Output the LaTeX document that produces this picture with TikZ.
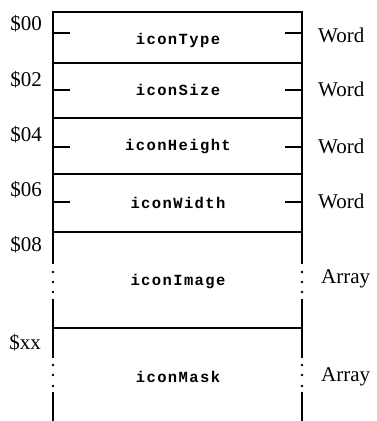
\documentclass[tikz,border=0pt]{standalone}
\usepackage{fontspec}
\setmainfont{Liberation Serif}
\newfontfamily\fieldfont[LetterSpace=9]{Liberation Mono}
\begin{document}
\begin{tikzpicture}[x=1pt,y=-1pt,
  rule/.style={line width=1.8pt},
  tick/.style={line width=1.6pt},
  offset/.style={font=\fontsize{21}{21}\selectfont, inner sep=0pt},
  kind/.style={font=\fontsize{21}{21}\selectfont, anchor=west, inner sep=0pt},
  field/.style={font=\fieldfont\bfseries\fontsize{15.5}{15.5}\selectfont, inner sep=0pt},
  gapdot/.style={fill, radius=1.3pt}]
\useasboundingbox (0,0) rectangle (376,421);
% column edges
\def\xl{53}\def\xr{302}
% outer frame and dividers
\draw[rule] (\xl,421) -- (\xl,12) -- (\xr,12) -- (\xr,421);
\draw[rule] (\xl,63) -- (\xr,63);
\draw[rule] (\xl,118) -- (\xr,118);
\draw[rule] (\xl,174) -- (\xr,174);
\draw[rule] (\xl,232) -- (\xr,232);
\draw[rule] (\xl,328) -- (\xr,328);
% gaps in the sides of the variable-length arrays
\foreach \x in {\xl,\xr} {
  \fill[white] (\x-3,264) rectangle (\x+3,299);
  \fill[white] (\x-3,358) rectangle (\x+3,392);
  \foreach \y in {272,282,292,365,375,386} \fill (\x,\y) circle[radius=1.3pt];
}
% word ticks
\foreach \y in {33,90,147,202} {
  \draw[tick] (\xl,\y) -- (\xl+17,\y);
  \draw[tick] (\xr-17,\y) -- (\xr,\y);
}
% field names
\node[field] (fType)   at (178,40)  {iconType};
\node[field] (fSize)   at (178,90)  {iconSize};
\node[field] (fHeight) at (178,147) {iconHeight};
\node[field] (fWidth)  at (178,203) {iconWidth};
\node[field] (fImage)  at (178,282) {iconImage};
\node[field] (fMask)   at (178,377) {iconMask};
% offsets
\node[offset] (o0) at (26,24)  {\$00};
\node[offset] (o2) at (26,80)  {\$02};
\node[offset] (o4) at (26,135) {\$04};
\node[offset] (o6) at (26,190) {\$06};
\node[offset] (o8) at (26,245) {\$08};
\node[offset] (ox) at (25,343) {\$xx};
% field kinds
\node[kind] (k0) at (318,35)  {Word};
\node[kind] (k2) at (318,89)  {Word};
\node[kind] (k4) at (318,146) {Word};
\node[kind] (k6) at (318,201) {Word};
\node[kind] (kI) at (321,279) {Array};
\node[kind] (kM) at (321,377) {Array};
\end{tikzpicture}
\end{document}
